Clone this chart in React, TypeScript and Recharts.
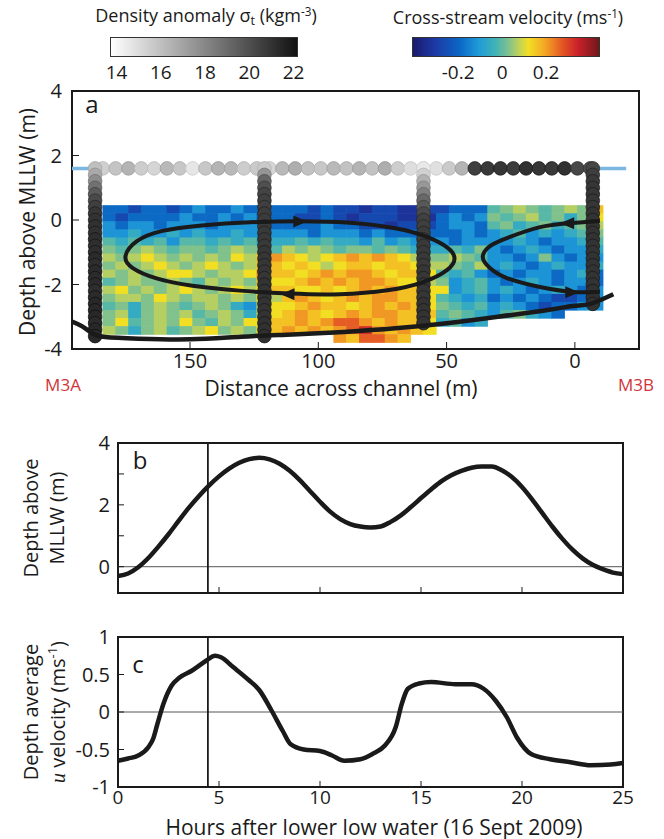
import React from "react";
import {
  ScatterChart,
  ComposedChart,
  Scatter,
  Line,
  XAxis,
  YAxis,
  ReferenceArea,
  ReferenceLine,
} from "recharts";

const FONT = "'Open Sans', 'DejaVu Sans', sans-serif";
const INK = "#1a1a1a";

/* ---------------- panel a: cross-channel section ---------------- */
const distTicks = [150, 100, 50, 0];
const depthTicks = [-4, -2, 0, 2, 4];

// velocity grid: 5 m columns from 184 m, 0.25 m rows from +0.45 m
const gridStartDist = 184;
const gridColWidth = 5;
const gridTopDepth = 0.45;
const gridRowHeight = 0.25;

// cross-stream velocity class of each cell (m/s); "." = no data
const velClass: Record<string, number> = {
  A: -0.33, B: -0.27, C: -0.19, D: -0.12, E: -0.06, F: -0.01, G: 0.03,
  H: 0.07, I: 0.12, J: 0.16, K: 0.21, L: 0.27, M: 0.33,
};
const velRows = [
  "CCBCCBCDCCDC CC CCBCBBABBA AB BCCC FGHGFGHGJ",
  "CBCCCCDCCDCD CC CBBCBABBBA AA CDCD GFGHFGEGI",
  "DCDDCDDDCDDD DC CCCDCCBBAB BB CDDC FGEFGEFGH",
  "DDEDDEDEDDED DD DDCDDDCDCC CC CCDC DEFDEDEFG",
  "FEFEFDFFEFEF EE EFEFEEDFDE DD DCDD DDEDCDDEF",
  "GFGHGFGGFGHG GF HGHGFGGFGF EE EFEG DCDEDCDDE",
  "HGHIHGHGHGIH JK JIHIJKJKJI HG GHGF DDCDGDCDD",
  "GHGHIHGHIHGH JJ IJIHIJJIJJ IH HGFH DEDCDEDDE",
  "HGHGHIIHGHHI KJ JIJKJKKJIJ JI FEFD CDCDDCDEC",
  "FGHGGHGFHGHG JI IJKJKJKKJI IH GDEF DCDEDCDDC",
  "HIGHGHIHGHIH IJ JIIJIJKJKJ JI IDEF DEDCDEDCD",
  "GHHGIHGHHGHG IH JKJIJKJKKJ JI FEDE CDCDCBBCD",
  "FGEGHGFGHGED HI IJKJJIJKJK JI GFEF DEDCBCCDD",
  "GHEGHGHFGHGE HI JKJIJKJKKJ JJ FGFE DFGEDC...",
  "GIFGHGIGFHGI IJ JKJKLLKJKJ JI EFDE .........",
  "HGEGHFGHIGHG IJ KJKJKLMKJK JI .... .........",
  "............ .. ....KJLLKJ .. .... .........",
];

// density (sigma_t) along the surface
const surfaceLevel = 1.6;
const surfaceDist = [
  184, 179, 174, 169, 164, 159, 154, 149, 144, 139, 134, 129, 124, 119, 114, 109, 104, 99, 94, 89,
  84, 79, 74, 69, 64, 59, 54, 49, 44, 39, 34, 29, 24, 19, 14, 9, 4, -1, -6,
];
const surfaceSigma = [
  15.4, 15.8, 16.4, 15.5, 15.2, 16.2, 15.7, 14.6, 15.7, 16.4, 16.2, 15.5, 15.6, 15.2, 16.2, 16.6, 15.9,
  15.7, 16.2, 15.9, 16.4, 15.9, 16.6, 15.5, 14.9, 14.6, 14.8, 15.6, 16.4, 20.6, 20.8, 20.9, 20.7, 21.1,
  20.9, 20.8, 21.1, 20.3, 20.1,
];
const surfaceLine = [
  { x: 196, y: surfaceLevel },
  { x: -20, y: surfaceLevel },
];

// vertical density profiles at the four stations
const mooringDist = [187, 121, 59, -7];
const profileDepth = [
  1.6, 1.4, 1.2, 1.0, 0.8, 0.6, 0.4, 0.2, 0, -0.2, -0.4, -0.6, -0.8, -1.0, -1.2, -1.4, -1.6, -1.8, -2.0,
  -2.2, -2.4, -2.6, -2.8, -3.0, -3.2, -3.4, -3.6,
];
const mooringSigma = [
  [16.0, 16.8, 17.8, 18.8, 19.6, 20.2, 20.6, 20.9, 21.0, 21.1, 21.1, 21.2, 21.2, 21.2, 21.3, 21.2, 21.3, 21.3, 21.3, 21.2, 21.3, 21.4, 21.4, 21.4, 21.3, 21.4, 21.4],
  [15.6, 17.5, 19.2, 20.0, 20.4, 20.6, 20.6, 20.7, 20.7, 20.8, 20.8, 20.8, 20.8, 20.9, 20.9, 20.9, 20.9, 20.9, 21.0, 21.0, 21.0, 21.0, 21.0, 21.0, 21.1, 21.1, 21.1],
  [14.5, 15.4, 16.5, 17.4, 18.3, 19.1, 19.7, 20.2, 20.5, 20.6, 20.7, 20.7, 20.8, 20.8, 20.8, 20.8, 20.9, 20.9, 20.9, 20.9, 20.9, 21.0, 21.0, 21.0, 21.0],
  [20.3, 20.6, 20.8, 20.9, 20.9, 20.9, 20.9, 21.0, 21.0, 21.0, 21.0, 21.0, 21.0, 21.0, 21.0, 21.0, 21.0, 21.0, 21.0, 21.1, 21.1, 21.1],
];

const bathymetry = [
  { x: 196, y: -3.15 }, { x: 192, y: -3.3 }, { x: 188, y: -3.52 }, { x: 183, y: -3.63 },
  { x: 170, y: -3.68 }, { x: 150, y: -3.7 }, { x: 130, y: -3.62 }, { x: 110, y: -3.55 },
  { x: 90, y: -3.47 }, { x: 70, y: -3.36 }, { x: 50, y: -3.2 }, { x: 30, y: -3.0 },
  { x: 10, y: -2.78 }, { x: 0, y: -2.66 }, { x: -6, y: -2.6 }, { x: -15, y: -2.3 },
];

// secondary circulation streamlines
const cellLeft = [
  { x: 176.5, y: -1.15 }, { x: 171.5, y: -0.62 }, { x: 161.7, y: -0.31 }, { x: 146.1, y: -0.16 },
  { x: 126.7, y: -0.06 }, { x: 107.2, y: -0.03 }, { x: 87.7, y: -0.06 }, { x: 68.2, y: -0.25 },
  { x: 56.5, y: -0.53 }, { x: 48.7, y: -0.87 }, { x: 46.0, y: -1.18 }, { x: 48.7, y: -1.55 },
  { x: 58.5, y: -1.95 }, { x: 72.1, y: -2.2 }, { x: 91.6, y: -2.33 }, { x: 111.1, y: -2.29 },
  { x: 130.6, y: -2.2 }, { x: 150.0, y: -2.05 }, { x: 163.7, y: -1.83 }, { x: 173.4, y: -1.49 },
];
const cellRight = [
  { x: -9.7, y: -0.03 }, { x: 0.8, y: -0.09 }, { x: 13.6, y: -0.22 }, { x: 26.5, y: -0.56 },
  { x: 33.1, y: -0.81 }, { x: 35.9, y: -1.15 }, { x: 33.1, y: -1.49 }, { x: 26.5, y: -1.8 },
  { x: 13.6, y: -2.08 }, { x: 0.8, y: -2.23 }, { x: -9.7, y: -2.23 },
];
// dir: 1 = pointing toward smaller distance (right on screen)
const flowArrows = [
  { x: 107, y: -0.05, dir: 1 },
  { x: 112, y: -2.3, dir: -1 },
  { x: 3, y: -0.1, dir: -1 },
  { x: 1, y: -2.24, dir: 1 },
];

/* ---------------- panel b: water level ---------------- */
const tideHours = [
  0, 0.5, 1, 1.5, 2, 2.5, 3, 3.5, 4, 4.5, 5, 5.5, 6, 6.5, 7, 7.5, 8, 8.5, 9, 9.5, 10, 10.5, 11, 11.5,
  12, 12.5, 13, 13.5, 14, 14.5, 15, 15.5, 16, 16.5, 17, 17.5, 18, 18.5, 19, 19.5, 20, 20.5, 21, 21.5,
  22, 22.5, 23, 23.5, 24, 24.5, 25,
];
const tideLevel = [
  -0.3, -0.22, -0.02, 0.28, 0.65, 1.05, 1.48, 1.9, 2.28, 2.62, 2.92, 3.17, 3.36, 3.48, 3.52, 3.47,
  3.33, 3.1, 2.8, 2.45, 2.1, 1.78, 1.54, 1.38, 1.3, 1.27, 1.3, 1.45, 1.66, 1.93, 2.22, 2.5, 2.76,
  2.96, 3.1, 3.2, 3.24, 3.24, 3.12, 2.9, 2.58, 2.18, 1.74, 1.3, 0.9, 0.55, 0.27, 0.06, -0.08, -0.19,
  -0.24,
];
const snapshotHour = 4.45;

/* ---------------- panel c: depth-averaged velocity ---------------- */
const velHours = [
  0, 0.5, 1.0, 1.5, 1.75, 1.95, 2.25, 2.65, 3.05, 3.65, 4.4, 4.8, 5.1, 5.7, 6.5, 7.0, 7.6, 8.15, 8.55,
  9.2, 10.0, 10.6, 11.2, 12.0, 12.6, 13.2, 13.75, 14.05, 14.35, 14.9, 15.5, 16.7, 17.5, 18.1, 18.7,
  19.25, 19.75, 20.45, 21.4, 22.4, 23.4, 24.4, 25,
];
const velMean = [
  -0.65, -0.62, -0.58, -0.47, -0.35, -0.16, 0.11, 0.35, 0.46, 0.55, 0.69, 0.75, 0.73, 0.6, 0.42, 0.29,
  0.02, -0.25, -0.43, -0.5, -0.52, -0.58, -0.65, -0.63, -0.56, -0.45, -0.2, 0.11, 0.31, 0.38, 0.4,
  0.37, 0.37, 0.31, 0.15, -0.07, -0.34, -0.56, -0.63, -0.67, -0.71, -0.7, -0.68,
];

/* ---------------- colour scales ---------------- */
const VEL_MIN = -0.41;
const VEL_MAX = 0.445;
const DENS_MIN = 13.7;
const DENS_MAX = 22.2;
const velStops: [number, string][] = [
  [0, "#1a1a6c"], [0.12, "#1c3aa6"], [0.25, "#0b66c4"], [0.35, "#1e9ad8"], [0.44, "#3fb2b8"],
  [0.51, "#7cc090"], [0.57, "#bfd25a"], [0.62, "#f2df24"], [0.71, "#f4a524"], [0.81, "#e25024"],
  [0.89, "#c8202a"], [1, "#6e1818"],
];

const hex = (c: string) => [1, 3, 5].map((i) => parseInt(c.slice(i, i + 2), 16));
const velColor = (v: number) => {
  const t = Math.min(1, Math.max(0, (v - VEL_MIN) / (VEL_MAX - VEL_MIN)));
  for (let i = 1; i < velStops.length; i++) {
    const [t1, c1] = velStops[i];
    const [t0, c0] = velStops[i - 1];
    if (t <= t1) {
      const f = (t - t0) / (t1 - t0);
      const a = hex(c0);
      const b = hex(c1);
      return `rgb(${a.map((x, k) => Math.round(x + (b[k] - x) * f)).join(",")})`;
    }
  }
  return velStops[velStops.length - 1][1];
};
const sigmaGray = (s: number, shade = 0) => {
  const t = Math.min(1, Math.max(0, (s - DENS_MIN) / (DENS_MAX - DENS_MIN)));
  const g = Math.max(0, Math.round(255 - t * 237) - shade);
  return `rgb(${g},${g},${g})`;
};

/* ---------------- derived series ---------------- */
const velCells = velRows.flatMap((row, r) =>
  row
    .replace(/ /g, "")
    .split("")
    .flatMap((code, c) =>
      code === "."
        ? []
        : [{ x: gridStartDist - gridColWidth * (c + 0.5), y: gridTopDepth - gridRowHeight * (r + 0.5), v: velClass[code] }]
    )
);
const surfaceDots = surfaceDist.map((x, i) => ({ x, y: surfaceLevel, s: surfaceSigma[i] }));
const profileDots = mooringDist.flatMap((x, m) => mooringSigma[m].map((s, k) => ({ x, y: profileDepth[k], s })));
const tideData = tideHours.map((h, i) => ({ h, z: tideLevel[i] }));
const velData = velHours.map((h, i) => ({ h, u: velMean[i] }));

/* ---------------- layout ---------------- */
const A = { left: 72, right: 639, top: 91, bottom: 349, xMin: -25, xMax: 196, yMin: -4, yMax: 4 };
const cellPxW = (gridColWidth * (A.right - A.left)) / (A.xMax - A.xMin);
const cellPxH = (gridRowHeight * (A.bottom - A.top)) / (A.yMax - A.yMin);

const tickStyle = { fontSize: 20, fill: INK, fontFamily: FONT };
const hourTickStyle = { fontSize: 19, fill: INK, fontFamily: FONT };

const NoShape = () => <g />;
const CellShape = (p: any) => (
  <rect
    x={p.cx - cellPxW / 2 - 0.3}
    y={p.cy - cellPxH / 2 - 0.3}
    width={cellPxW + 0.6}
    height={cellPxH + 0.6}
    fill={velColor(p.payload.v)}
  />
);
const DotShape = (p: any) => (
  <circle cx={p.cx} cy={p.cy} r={6.8} fill={sigmaGray(p.payload.s)} stroke={sigmaGray(p.payload.s, 25)} strokeWidth={0.8} />
);
const ArrowShape = (p: any) => {
  const d = p.payload.dir;
  return (
    <path
      d={`M${p.cx + d * 7},${p.cy} L${p.cx - d * 7},${p.cy - 6} L${p.cx - d * 7},${p.cy + 6} Z`}
      fill={INK}
    />
  );
};

const Txt = ({ x, y, size = 21, rotate = false, color = INK, children }: any) => (
  <div
    style={{
      position: "absolute",
      left: x,
      top: y,
      transform: `translate(-50%, -50%)${rotate ? " rotate(-90deg)" : ""}`,
      fontSize: size,
      color,
      whiteSpace: "nowrap",
      lineHeight: 1,
      fontFamily: FONT,
    }}
  >
    {children}
  </div>
);

const ColorBar = ({ left, gradient, min, max, ticks }: any) => (
  <>
    <div
      style={{
        position: "absolute",
        left,
        top: 37,
        width: 188,
        height: 20,
        background: gradient,
        border: "1px solid #333",
        boxSizing: "border-box",
      }}
    />
    {ticks.map((t: number) => (
      <Txt key={t} x={left + ((t - min) / (max - min)) * 188} y={72} size={19}>
        {t}
      </Txt>
    ))}
  </>
);

const PanelA = () => (
  <ScatterChart
    width={664}
    height={400}
    margin={{ top: A.top, right: 664 - A.right, bottom: 400 - A.bottom - 30, left: A.left - 40 }}
  >
    <XAxis
      type="number"
      dataKey="x"
      domain={[A.xMin, A.xMax]}
      reversed
      allowDataOverflow
      ticks={distTicks}
      height={30}
      axisLine={false}
      tickSize={-7}
      tickMargin={12}
      tickLine={{ stroke: INK }}
      tick={tickStyle}
    />
    <YAxis
      type="number"
      dataKey="y"
      domain={[A.yMin, A.yMax]}
      allowDataOverflow
      ticks={depthTicks}
      width={40}
      axisLine={false}
      tickSize={-7}
      tickMargin={17}
      tickLine={{ stroke: INK }}
      tick={tickStyle}
    />
    <Scatter data={velCells} shape={CellShape} isAnimationActive={false} />
    <Scatter data={surfaceLine} line={{ stroke: "#7ab8e2", strokeWidth: 3.5 }} shape={NoShape} isAnimationActive={false} />
    <Scatter data={surfaceDots} shape={DotShape} isAnimationActive={false} />
    <Scatter data={profileDots} shape={DotShape} isAnimationActive={false} />
    <Scatter data={bathymetry} line={{ stroke: INK, strokeWidth: 4.5 }} lineJointType="natural" shape={NoShape} isAnimationActive={false} />
    <Scatter data={cellLeft} line={{ stroke: INK, strokeWidth: 4 }} lineJointType="basisClosed" shape={NoShape} isAnimationActive={false} />
    <Scatter data={cellRight} line={{ stroke: INK, strokeWidth: 4 }} lineJointType="natural" shape={NoShape} isAnimationActive={false} />
    <Scatter data={flowArrows} shape={ArrowShape} isAnimationActive={false} />
    <ReferenceArea x1={A.xMin} x2={A.xMax} y1={A.yMin} y2={A.yMax} fill="none" stroke={INK} strokeWidth={2} ifOverflow="visible" />
  </ScatterChart>
);

const PanelB = () => (
  <ComposedChart width={664} height={200} data={tideData} margin={{ top: 23, right: 40, bottom: 17, left: 78 }}>
    <XAxis
      type="number"
      dataKey="h"
      domain={[0, 25]}
      ticks={[0, 5, 10, 15, 20, 25]}
      tickFormatter={() => ""}
      height={10}
      axisLine={false}
      tickSize={-6}
      tickLine={{ stroke: INK }}
    />
    <YAxis
      domain={[-0.85, 4]}
      allowDataOverflow
      ticks={[0, 1, 2, 3, 4]}
      tickFormatter={(v: number) => (v % 2 === 0 ? String(v) : "")}
      width={40}
      axisLine={false}
      tickSize={-6}
      tickMargin={14}
      tickLine={{ stroke: INK }}
      tick={tickStyle}
    />
    <YAxis
      yAxisId="r"
      orientation="right"
      domain={[-0.85, 4]}
      ticks={[1, 2, 3]}
      tickFormatter={() => ""}
      width={1}
      axisLine={false}
      tickSize={-6}
      tickLine={{ stroke: INK }}
    />
    <ReferenceLine y={0} stroke="#555" strokeWidth={1} />
    <ReferenceLine x={snapshotHour} stroke={INK} strokeWidth={1.8} />
    <Line dataKey="z" type="monotone" stroke={INK} strokeWidth={4.5} dot={false} isAnimationActive={false} />
    <ReferenceArea x1={0} x2={25} y1={-0.85} y2={4} fill="none" stroke={INK} strokeWidth={2} ifOverflow="visible" />
  </ComposedChart>
);

const PanelC = () => (
  <ComposedChart width={664} height={219} data={velData} margin={{ top: 17, right: 40, bottom: 22, left: 78 }}>
    <XAxis
      type="number"
      dataKey="h"
      domain={[0, 25]}
      ticks={[0, 5, 10, 15, 20, 25]}
      height={30}
      axisLine={false}
      tickSize={-6}
      tickMargin={10}
      tickLine={{ stroke: INK }}
      tick={hourTickStyle}
    />
    <YAxis
      domain={[-1, 1]}
      ticks={[-1, -0.5, 0, 0.5, 1]}
      width={40}
      axisLine={false}
      tickSize={-6}
      tickMargin={14}
      tickLine={{ stroke: INK }}
      tick={tickStyle}
    />
    <YAxis
      yAxisId="r"
      orientation="right"
      domain={[-1, 1]}
      ticks={[-0.5, 0, 0.5]}
      tickFormatter={() => ""}
      width={1}
      axisLine={false}
      tickSize={-6}
      tickLine={{ stroke: INK }}
    />
    <ReferenceLine y={0} stroke="#555" strokeWidth={1} />
    <ReferenceLine x={snapshotHour} stroke={INK} strokeWidth={1.8} />
    <Line dataKey="u" type="monotone" stroke={INK} strokeWidth={4.5} dot={false} isAnimationActive={false} />
    <ReferenceArea x1={0} x2={25} y1={-1} y2={1} fill="none" stroke={INK} strokeWidth={2} ifOverflow="visible" />
  </ComposedChart>
);

const sup = { fontSize: "0.65em", verticalAlign: "0.55em" };
const sub = { fontSize: "0.7em", verticalAlign: "-0.25em" };

export default function App() {
  const velGradient = `linear-gradient(to right, ${velStops.map(([t, c]) => `${c} ${t * 100}%`).join(", ")})`;
  const densGradient = `linear-gradient(to right, ${sigmaGray(DENS_MIN)}, ${sigmaGray(DENS_MAX)})`;
  return (
    <div style={{ position: "absolute", left: 0, top: 0, width: 664, height: 839, background: "#fff", overflow: "hidden" }}>
      <div style={{ position: "absolute", left: 0, top: 0 }}>
        <PanelA />
      </div>
      <div style={{ position: "absolute", left: 0, top: 420 }}>
        <PanelB />
      </div>
      <div style={{ position: "absolute", left: 0, top: 620 }}>
        <PanelC />
      </div>

      {/* colour bars */}
      <Txt x={206} y={17} size={18}>
        Density anomaly σ<span style={sub}>t</span> (kgm<span style={sup}>-3</span>)
      </Txt>
      <ColorBar left={110} gradient={densGradient} min={DENS_MIN} max={DENS_MAX} ticks={[14, 16, 18, 20, 22]} />
      <Txt x={508} y={17} size={18}>
        Cross-stream velocity (ms<span style={sup}>-1</span>)
      </Txt>
      <ColorBar left={412} gradient={velGradient} min={VEL_MIN} max={VEL_MAX} ticks={[-0.2, 0, 0.2]} />

      {/* panel a labels */}
      <Txt x={92} y={104} size={24}>a</Txt>
      <Txt x={27} y={222} rotate>Depth above MLLW (m)</Txt>
      <Txt x={341} y={388} size={21}>Distance across channel (m)</Txt>
      <Txt x={63} y={384} size={17} color="#d0343a">M3A</Txt>
      <Txt x={636} y={384} size={17} color="#d0343a">M3B</Txt>

      {/* panel b labels */}
      <Txt x={140} y={460} size={24}>b</Txt>
      <Txt x={31} y={518} size={20} rotate>Depth above</Txt>
      <Txt x={57} y={518} size={20} rotate>MLLW (m)</Txt>

      {/* panel c labels */}
      <Txt x={138} y={664} size={24}>c</Txt>
      <Txt x={31} y={712} size={20} rotate>Depth average</Txt>
      <Txt x={57} y={712} size={20} rotate>
        <span style={{ fontStyle: "italic", fontFamily: "'Liberation Serif', serif" }}>u</span> velocity (ms
        <span style={sup}>-1</span>)
      </Txt>
      <Txt x={374} y={827} size={21}>Hours after lower low water (16 Sept 2009)</Txt>
    </div>
  );
}
